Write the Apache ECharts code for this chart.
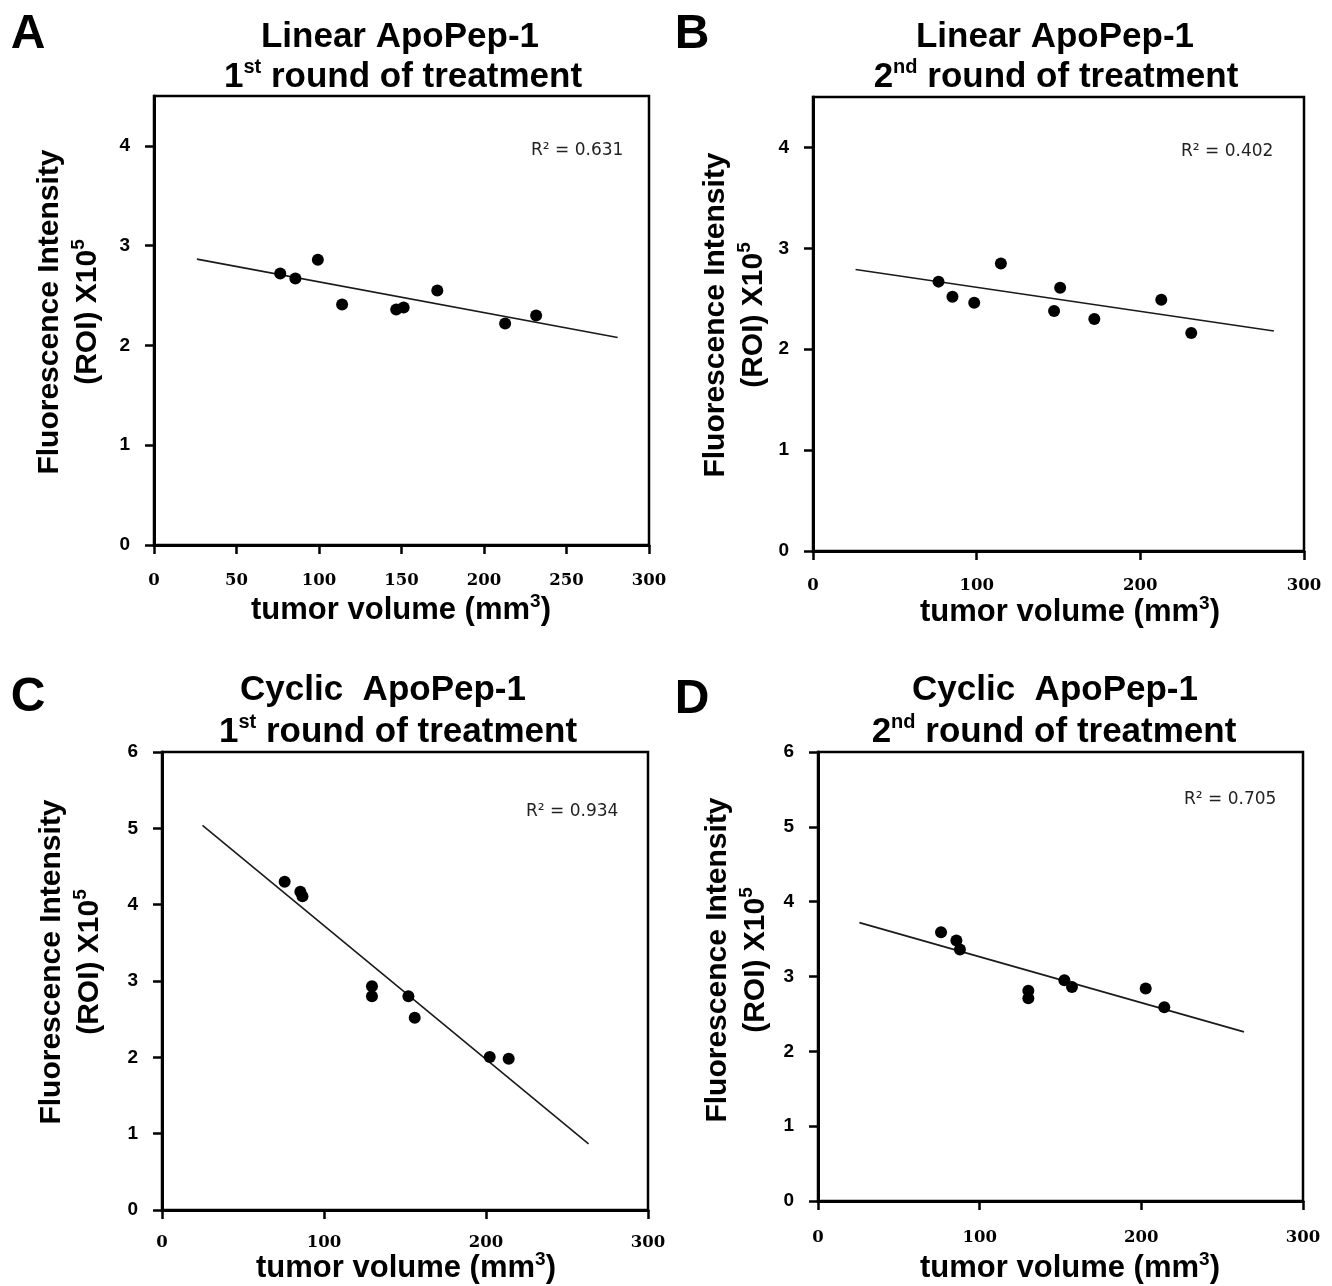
<!DOCTYPE html>
<html>
<head>
<meta charset="utf-8">
<script src="https://cdn.jsdelivr.net/npm/echarts@6/dist/echarts.min.js"></script>
<style>
html,body{margin:0;padding:0;background:#fff;}
#c{width:1332px;height:1286px;}
</style>
</head>
<body>
<div id="c"></div>
<script>
// ---- data ----
var aX = [76.5, 85.7, 99.3, 114, 146.8, 151.3, 171.7, 212.8, 231.6];
var aY = [2.72, 2.67, 2.86, 2.41, 2.36, 2.38, 2.55, 2.22, 2.30];
var aTrendX = [26, 281];
var aTrendY = [2.865, 2.08];

var bX = [76.7, 85.2, 98.5, 114.8, 147.3, 151, 171.9, 212.8, 231.1];
var bY = [2.67, 2.52, 2.46, 2.85, 2.38, 2.61, 2.30, 2.49, 2.16];
var bTrendX = [26, 281.6];
var bTrendY = [2.79, 2.18];

var cX = [75.7, 85.4, 86.7, 129.6, 129.6, 152.1, 156, 202.3, 214];
var cY = [4.30, 4.17, 4.11, 2.93, 2.80, 2.80, 2.52, 2.005, 1.98];
var cTrendX = [25, 263.3];
var cTrendY = [5.04, 0.865];

var dX = [76.1, 85.6, 87.8, 130.1, 130.1, 152.4, 157.1, 202.7, 214.2];
var dY = [3.59, 3.48, 3.36, 2.81, 2.71, 2.95, 2.86, 2.84, 2.59];
var dTrendX = [25.6, 263.5];
var dTrendY = [3.72, 2.26];

var r2Labels = ['R² = 0.631', 'R² = 0.402', 'R² = 0.934', 'R² = 0.705'];
var panelLetters = ['A', 'B', 'C', 'D'];
var titleLine1 = ['Linear ApoPep-1', 'Linear ApoPep-1', 'Cyclic  ApoPep-1', 'Cyclic  ApoPep-1'];
var roundOrdinal = [['1', 'st'], ['2', 'nd'], ['1', 'st'], ['2', 'nd']];
var xTicksAB = [[0, 50, 100, 150, 200, 250, 300], [0, 100, 200, 300]];
var xTicksCD = [0, 100, 200, 300];
var yTicksAB = [0, 1, 2, 3, 4];
var yTicksCD = [0, 1, 2, 3, 4, 5, 6];
var xName = 'tumor volume (mm';
var xNameSup = '3';
var xNameEnd = ')';

function zip(xs, ys) { return xs.map(function (v, i) { return [v, ys[i]]; }); }

// ---- layout ----
var grids = [
  {left: 154, top: 96, width: 495, height: 449},
  {left: 813, top: 97, width: 491, height: 454},
  {left: 162, top: 752, width: 486, height: 458},
  {left: 818, top: 752, width: 485, height: 449}
];
var yMax = [4.5, 4.5, 6, 6];
var xInterval = [50, 100, 100, 100];
var xTickVals = [xTicksAB[0], xTicksAB[1], xTicksCD, xTicksCD];
var yTickVals = [yTicksAB, yTicksAB, yTicksCD, yTicksCD];
var xLabelMargin = [27, 26, 24, 28];

var xAxes = [], yAxes = [], gridOpts = [];
for (var i = 0; i < 4; i++) {
  gridOpts.push({left: grids[i].left, top: grids[i].top, width: grids[i].width, height: grids[i].height,
    show: true, borderColor: '#000', borderWidth: 2.5, backgroundColor: '#fff'});
  xAxes.push({
    gridIndex: i, type: 'value', min: 0, max: 300, interval: xInterval[i],
    axisLine: {show: true, onZero: false, lineStyle: {color: '#000', width: 3}},
    axisTick: {show: true, inside: false, length: 9, lineStyle: {color: '#000', width: 2.5}, customValues: xTickVals[i]},
    axisLabel: {show: true, margin: xLabelMargin[i], color: '#000', fontFamily: 'DejaVu Serif', fontWeight: 'bold', fontSize: 16.5, customValues: xTickVals[i]},
    splitLine: {show: false}
  });
  yAxes.push({
    gridIndex: i, type: 'value', min: 0, max: yMax[i], interval: 1,
    axisLine: {show: true, onZero: false, lineStyle: {color: '#000', width: 3}},
    axisTick: {show: true, inside: false, length: 9, lineStyle: {color: '#000', width: 2.5}, customValues: yTickVals[i]},
    axisLabel: {show: true, margin: 24, color: '#000', fontFamily: 'Liberation Sans', fontWeight: 'bold', fontSize: 19, customValues: yTickVals[i]},
    splitLine: {show: false}
  });
}

var pts = [zip(aX, aY), zip(bX, bY), zip(cX, cY), zip(dX, dY)];
var trends = [zip(aTrendX, aTrendY), zip(bTrendX, bTrendY), zip(cTrendX, cTrendY), zip(dTrendX, dTrendY)];
var series = [];
for (var j = 0; j < 4; j++) {
  series.push({type: 'line', xAxisIndex: j, yAxisIndex: j, data: trends[j], symbol: 'none',
    lineStyle: {color: '#1a1a1a', width: 1.6}, silent: true, z: 2, animation: false});
  series.push({type: 'scatter', xAxisIndex: j, yAxisIndex: j, data: pts[j], symbol: 'circle', symbolSize: 12,
    itemStyle: {color: '#000', opacity: 1}, z: 3, animation: false});
}

// ---- text graphics ----
var boldFont = 'Liberation Sans';
var g = [];
function txt(x, y, text, opts) {
  var st = Object.assign({text: text, fill: '#000', align: 'center', verticalAlign: 'middle',
    textAlign: 'center', textVerticalAlign: 'middle', fontFamily: boldFont, fontWeight: 'bold', fontSize: 30}, opts || {});
  return {type: 'text', x: x, y: y, style: st, z: 10};
}
var letterPos = [[28, 35], [692, 35], [28, 698], [692, 700]];
var t1Pos = [[400, 37], [1055, 37], [383, 690], [1055, 690]];
var t2Pos = [[403, 77], [1056, 77], [398, 732], [1054, 732]];
var r2Pos = [[531, 151], [1181, 152], [526, 812], [1184, 800]];
var xNamePos = [[401, 610], [1070, 612], [406, 1268], [1070, 1268]];
var yNamePos = [[69, 312], [735, 315], [71, 962], [737, 960]];

for (var k = 0; k < 4; k++) {
  g.push(txt(letterPos[k][0], letterPos[k][1], panelLetters[k], {fontSize: 48}));
  g.push(txt(t1Pos[k][0], t1Pos[k][1], titleLine1[k], {fontSize: 35}));
  g.push(txt(t2Pos[k][0], t2Pos[k][1],
    '{n|' + roundOrdinal[k][0] + '}{s|' + roundOrdinal[k][1] + '}{n| round of treatment}',
    {fontSize: 35, rich: {
      n: {fontFamily: boldFont, fontWeight: 'bold', fontSize: 35, lineHeight: 40, fill: '#000', color: '#000'},
      s: {fontFamily: boldFont, fontWeight: 'bold', fontSize: 20, lineHeight: 26, verticalAlign: 'top', fill: '#000', color: '#000'}
    }}));
  g.push(txt(r2Pos[k][0], r2Pos[k][1], r2Labels[k],
    {fontFamily: 'DejaVu Sans', fontWeight: 'normal', fontSize: 17, align: 'left', textAlign: 'left', fill: '#222'}));
  g.push(txt(xNamePos[k][0], xNamePos[k][1],
    '{n|' + xName + '}{s|' + xNameSup + '}{n|' + xNameEnd + '}',
    {fontSize: 31, rich: {
      n: {fontFamily: boldFont, fontWeight: 'bold', fontSize: 31, lineHeight: 36, fill: '#000', color: '#000'},
      s: {fontFamily: boldFont, fontWeight: 'bold', fontSize: 19, lineHeight: 22, verticalAlign: 'top', fill: '#000', color: '#000'}
    }}));
  var yn = txt(yNamePos[k][0], yNamePos[k][1],
    '{n|Fluorescence Intensity}\n{n|(ROI) X10}{s|5}',
    {fontSize: 30, rich: {
      n: {fontFamily: boldFont, fontWeight: 'bold', fontSize: 30, lineHeight: 38, fill: '#000', color: '#000'},
      s: {fontFamily: boldFont, fontWeight: 'bold', fontSize: 19, lineHeight: 22, verticalAlign: 'top', fill: '#000', color: '#000'}
    }});
  yn.rotation = Math.PI / 2;
  g.push(yn);
}

var chart = echarts.init(document.getElementById('c'), null, {renderer: 'canvas'});
chart.setOption({
  animation: false,
  backgroundColor: '#fff',
  grid: gridOpts,
  xAxis: xAxes,
  yAxis: yAxes,
  series: series,
  graphic: {elements: g}
});
</script>
</body>
</html>
